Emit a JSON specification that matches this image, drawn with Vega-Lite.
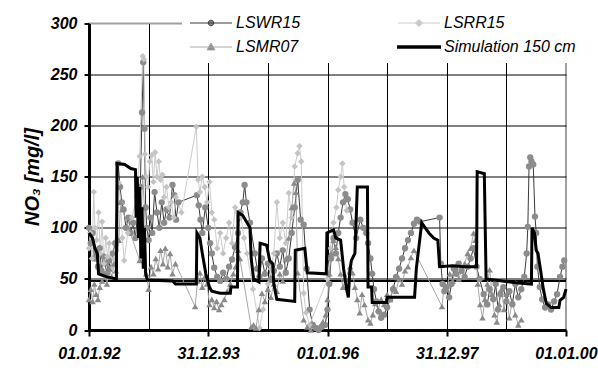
{
"$schema": "https://vega.github.io/schema/vega-lite/v6.json",
"width": 477,
"height": 306.5,
"autosize": {"type": "none"},
"padding": {"left": 89, "top": 23.5, "right": 32, "bottom": 48.5},
"background": "white",
"config": {"view": {"stroke": "#a0a0a0", "strokeWidth": 2}, "font": "Liberation Sans"},
"data": {"values": [
{"s":"LSWR15","t":1992.00,"v":100},{"s":"LSWR15","t":1992.03,"v":85},{"s":"LSWR15","t":1992.06,"v":95},{"s":"LSWR15","t":1992.09,"v":70},{"s":"LSWR15","t":1992.12,"v":78},{"s":"LSWR15","t":1992.15,"v":62},{"s":"LSWR15","t":1992.18,"v":80},{"s":"LSWR15","t":1992.21,"v":58},{"s":"LSWR15","t":1992.24,"v":72},{"s":"LSWR15","t":1992.27,"v":65},{"s":"LSWR15","t":1992.30,"v":55},{"s":"LSWR15","t":1992.33,"v":68},{"s":"LSWR15","t":1992.36,"v":60},{"s":"LSWR15","t":1992.40,"v":75},{"s":"LSWR15","t":1992.44,"v":85},{"s":"LSWR15","t":1992.49,"v":163},{"s":"LSWR15","t":1992.52,"v":140},{"s":"LSWR15","t":1992.55,"v":125},{"s":"LSWR15","t":1992.58,"v":118},{"s":"LSWR15","t":1992.62,"v":100},{"s":"LSWR15","t":1992.66,"v":110},{"s":"LSWR15","t":1992.70,"v":95},{"s":"LSWR15","t":1992.74,"v":105},{"s":"LSWR15","t":1992.78,"v":90},{"s":"LSWR15","t":1992.82,"v":120},{"s":"LSWR15","t":1992.86,"v":140},{"s":"LSWR15","t":1992.89,"v":213},{"s":"LSWR15","t":1992.91,"v":262},{"s":"LSWR15","t":1992.93,"v":197},{"s":"LSWR15","t":1992.95,"v":120},{"s":"LSWR15","t":1992.97,"v":100},{"s":"LSWR15","t":1993.00,"v":88},{"s":"LSWR15","t":1993.03,"v":110},{"s":"LSWR15","t":1993.06,"v":95},{"s":"LSWR15","t":1993.10,"v":135},{"s":"LSWR15","t":1993.14,"v":115},{"s":"LSWR15","t":1993.18,"v":100},{"s":"LSWR15","t":1993.22,"v":125},{"s":"LSWR15","t":1993.26,"v":105},{"s":"LSWR15","t":1993.30,"v":118},{"s":"LSWR15","t":1993.35,"v":110},{"s":"LSWR15","t":1993.40,"v":142},{"s":"LSWR15","t":1993.43,"v":132},{"s":"LSWR15","t":1993.46,"v":108},{"s":"LSWR15","t":1993.50,"v":125},{"s":"LSWR15","t":1993.81,"v":132},{"s":"LSWR15","t":1993.84,"v":122},{"s":"LSWR15","t":1993.87,"v":108},{"s":"LSWR15","t":1993.90,"v":95},{"s":"LSWR15","t":1993.95,"v":120},{"s":"LSWR15","t":1994.00,"v":100},{"s":"LSWR15","t":1994.03,"v":85},{"s":"LSWR15","t":1994.06,"v":75},{"s":"LSWR15","t":1994.10,"v":61},{"s":"LSWR15","t":1994.15,"v":52},{"s":"LSWR15","t":1994.20,"v":48},{"s":"LSWR15","t":1994.25,"v":56},{"s":"LSWR15","t":1994.30,"v":50},{"s":"LSWR15","t":1994.35,"v":62},{"s":"LSWR15","t":1994.40,"v":69},{"s":"LSWR15","t":1994.45,"v":81},{"s":"LSWR15","t":1994.50,"v":95},{"s":"LSWR15","t":1994.54,"v":115},{"s":"LSWR15","t":1994.58,"v":125},{"s":"LSWR15","t":1994.61,"v":142},{"s":"LSWR15","t":1994.64,"v":125},{"s":"LSWR15","t":1994.70,"v":105},{"s":"LSWR15","t":1994.78,"v":75},{"s":"LSWR15","t":1994.82,"v":60},{"s":"LSWR15","t":1994.86,"v":52},{"s":"LSWR15","t":1994.90,"v":70},{"s":"LSWR15","t":1994.95,"v":55},{"s":"LSWR15","t":1995.00,"v":65},{"s":"LSWR15","t":1995.05,"v":49},{"s":"LSWR15","t":1995.10,"v":58},{"s":"LSWR15","t":1995.15,"v":75},{"s":"LSWR15","t":1995.20,"v":62},{"s":"LSWR15","t":1995.25,"v":78},{"s":"LSWR15","t":1995.30,"v":56},{"s":"LSWR15","t":1995.35,"v":70},{"s":"LSWR15","t":1995.40,"v":95},{"s":"LSWR15","t":1995.45,"v":120},{"s":"LSWR15","t":1995.50,"v":147},{"s":"LSWR15","t":1995.55,"v":108},{"s":"LSWR15","t":1995.60,"v":103},{"s":"LSWR15","t":1995.65,"v":60},{"s":"LSWR15","t":1995.70,"v":20},{"s":"LSWR15","t":1995.75,"v":5},{"s":"LSWR15","t":1995.80,"v":2},{"s":"LSWR15","t":1995.85,"v":0},{"s":"LSWR15","t":1995.90,"v":3},{"s":"LSWR15","t":1995.96,"v":5},{"s":"LSWR15","t":1996.00,"v":20},{"s":"LSWR15","t":1996.03,"v":45},{"s":"LSWR15","t":1996.06,"v":70},{"s":"LSWR15","t":1996.10,"v":90},{"s":"LSWR15","t":1996.14,"v":75},{"s":"LSWR15","t":1996.18,"v":95},{"s":"LSWR15","t":1996.22,"v":110},{"s":"LSWR15","t":1996.26,"v":125},{"s":"LSWR15","t":1996.30,"v":133},{"s":"LSWR15","t":1996.34,"v":128},{"s":"LSWR15","t":1996.38,"v":118},{"s":"LSWR15","t":1996.42,"v":105},{"s":"LSWR15","t":1996.48,"v":90},{"s":"LSWR15","t":1996.55,"v":108},{"s":"LSWR15","t":1996.60,"v":100},{"s":"LSWR15","t":1996.65,"v":95},{"s":"LSWR15","t":1996.68,"v":85},{"s":"LSWR15","t":1996.72,"v":70},{"s":"LSWR15","t":1996.75,"v":55},{"s":"LSWR15","t":1996.78,"v":40},{"s":"LSWR15","t":1996.82,"v":28},{"s":"LSWR15","t":1996.86,"v":18},{"s":"LSWR15","t":1996.90,"v":12},{"s":"LSWR15","t":1996.95,"v":15},{"s":"LSWR15","t":1997.00,"v":22},{"s":"LSWR15","t":1997.05,"v":30},{"s":"LSWR15","t":1997.10,"v":40},{"s":"LSWR15","t":1997.15,"v":52},{"s":"LSWR15","t":1997.20,"v":60},{"s":"LSWR15","t":1997.25,"v":70},{"s":"LSWR15","t":1997.30,"v":80},{"s":"LSWR15","t":1997.35,"v":88},{"s":"LSWR15","t":1997.40,"v":95},{"s":"LSWR15","t":1997.45,"v":104},{"s":"LSWR15","t":1997.50,"v":108},{"s":"LSWR15","t":1997.55,"v":106},{"s":"LSWR15","t":1997.88,"v":110},{"s":"LSWR15","t":1997.90,"v":65},{"s":"LSWR15","t":1997.93,"v":45},{"s":"LSWR15","t":1997.96,"v":38},{"s":"LSWR15","t":1998.00,"v":42},{"s":"LSWR15","t":1998.04,"v":32},{"s":"LSWR15","t":1998.08,"v":45},{"s":"LSWR15","t":1998.12,"v":60},{"s":"LSWR15","t":1998.16,"v":55},{"s":"LSWR15","t":1998.20,"v":65},{"s":"LSWR15","t":1998.25,"v":58},{"s":"LSWR15","t":1998.30,"v":52},{"s":"LSWR15","t":1998.35,"v":62},{"s":"LSWR15","t":1998.40,"v":70},{"s":"LSWR15","t":1998.45,"v":80},{"s":"LSWR15","t":1998.50,"v":62},{"s":"LSWR15","t":1998.55,"v":50},{"s":"LSWR15","t":1998.62,"v":35},{"s":"LSWR15","t":1998.68,"v":25},{"s":"LSWR15","t":1998.72,"v":40},{"s":"LSWR15","t":1998.78,"v":30},{"s":"LSWR15","t":1998.82,"v":45},{"s":"LSWR15","t":1998.86,"v":20},{"s":"LSWR15","t":1998.90,"v":35},{"s":"LSWR15","t":1998.95,"v":42},{"s":"LSWR15","t":1999.00,"v":28},{"s":"LSWR15","t":1999.05,"v":38},{"s":"LSWR15","t":1999.10,"v":25},{"s":"LSWR15","t":1999.15,"v":45},{"s":"LSWR15","t":1999.20,"v":32},{"s":"LSWR15","t":1999.25,"v":40},{"s":"LSWR15","t":1999.30,"v":52},{"s":"LSWR15","t":1999.34,"v":75},{"s":"LSWR15","t":1999.36,"v":101},{"s":"LSWR15","t":1999.38,"v":160},{"s":"LSWR15","t":1999.40,"v":169},{"s":"LSWR15","t":1999.42,"v":165},{"s":"LSWR15","t":1999.45,"v":162},{"s":"LSWR15","t":1999.48,"v":111},{"s":"LSWR15","t":1999.50,"v":95},{"s":"LSWR15","t":1999.52,"v":62},{"s":"LSWR15","t":1999.56,"v":42},{"s":"LSWR15","t":1999.60,"v":30},{"s":"LSWR15","t":1999.65,"v":22},{"s":"LSWR15","t":1999.70,"v":25},{"s":"LSWR15","t":1999.75,"v":20},{"s":"LSWR15","t":1999.80,"v":28},{"s":"LSWR15","t":1999.85,"v":35},{"s":"LSWR15","t":1999.90,"v":52},{"s":"LSWR15","t":1999.94,"v":62},{"s":"LSWR15","t":1999.97,"v":68},
{"s":"LSRR15","t":1992.00,"v":80},{"s":"LSRR15","t":1992.02,"v":95},{"s":"LSRR15","t":1992.05,"v":70},{"s":"LSRR15","t":1992.08,"v":135},{"s":"LSRR15","t":1992.10,"v":100},{"s":"LSRR15","t":1992.13,"v":88},{"s":"LSRR15","t":1992.16,"v":115},{"s":"LSRR15","t":1992.19,"v":75},{"s":"LSRR15","t":1992.22,"v":106},{"s":"LSRR15","t":1992.25,"v":65},{"s":"LSRR15","t":1992.28,"v":90},{"s":"LSRR15","t":1992.31,"v":72},{"s":"LSRR15","t":1992.34,"v":85},{"s":"LSRR15","t":1992.38,"v":60},{"s":"LSRR15","t":1992.42,"v":70},{"s":"LSRR15","t":1992.46,"v":78},{"s":"LSRR15","t":1992.50,"v":144},{"s":"LSRR15","t":1992.53,"v":124},{"s":"LSRR15","t":1992.56,"v":90},{"s":"LSRR15","t":1992.59,"v":68},{"s":"LSRR15","t":1992.65,"v":95},{"s":"LSRR15","t":1992.72,"v":110},{"s":"LSRR15","t":1992.80,"v":130},{"s":"LSRR15","t":1992.85,"v":170},{"s":"LSRR15","t":1992.90,"v":268},{"s":"LSRR15","t":1992.92,"v":265},{"s":"LSRR15","t":1992.94,"v":172},{"s":"LSRR15","t":1992.96,"v":150},{"s":"LSRR15","t":1992.99,"v":140},{"s":"LSRR15","t":1993.02,"v":165},{"s":"LSRR15","t":1993.05,"v":171},{"s":"LSRR15","t":1993.08,"v":145},{"s":"LSRR15","t":1993.11,"v":174},{"s":"LSRR15","t":1993.14,"v":150},{"s":"LSRR15","t":1993.17,"v":165},{"s":"LSRR15","t":1993.20,"v":147},{"s":"LSRR15","t":1993.23,"v":152},{"s":"LSRR15","t":1993.26,"v":130},{"s":"LSRR15","t":1993.30,"v":140},{"s":"LSRR15","t":1993.34,"v":120},{"s":"LSRR15","t":1993.38,"v":125},{"s":"LSRR15","t":1993.42,"v":110},{"s":"LSRR15","t":1993.46,"v":130},{"s":"LSRR15","t":1993.55,"v":115},{"s":"LSRR15","t":1993.80,"v":199},{"s":"LSRR15","t":1993.83,"v":147},{"s":"LSRR15","t":1993.86,"v":135},{"s":"LSRR15","t":1993.90,"v":150},{"s":"LSRR15","t":1993.94,"v":140},{"s":"LSRR15","t":1993.98,"v":125},{"s":"LSRR15","t":1994.02,"v":145},{"s":"LSRR15","t":1994.06,"v":115},{"s":"LSRR15","t":1994.10,"v":108},{"s":"LSRR15","t":1994.15,"v":80},{"s":"LSRR15","t":1994.20,"v":95},{"s":"LSRR15","t":1994.25,"v":75},{"s":"LSRR15","t":1994.30,"v":90},{"s":"LSRR15","t":1994.35,"v":105},{"s":"LSRR15","t":1994.40,"v":85},{"s":"LSRR15","t":1994.45,"v":120},{"s":"LSRR15","t":1994.50,"v":100},{"s":"LSRR15","t":1994.55,"v":110},{"s":"LSRR15","t":1994.60,"v":90},{"s":"LSRR15","t":1994.65,"v":75},{"s":"LSRR15","t":1994.75,"v":40},{"s":"LSRR15","t":1994.86,"v":2},{"s":"LSRR15","t":1994.92,"v":20},{"s":"LSRR15","t":1995.00,"v":45},{"s":"LSRR15","t":1995.05,"v":60},{"s":"LSRR15","t":1995.10,"v":75},{"s":"LSRR15","t":1995.15,"v":125},{"s":"LSRR15","t":1995.20,"v":90},{"s":"LSRR15","t":1995.25,"v":105},{"s":"LSRR15","t":1995.30,"v":85},{"s":"LSRR15","t":1995.35,"v":134},{"s":"LSRR15","t":1995.40,"v":110},{"s":"LSRR15","t":1995.45,"v":160},{"s":"LSRR15","t":1995.50,"v":173},{"s":"LSRR15","t":1995.53,"v":180},{"s":"LSRR15","t":1995.56,"v":165},{"s":"LSRR15","t":1995.60,"v":36},{"s":"LSRR15","t":1995.64,"v":17},{"s":"LSRR15","t":1995.70,"v":5},{"s":"LSRR15","t":1996.00,"v":50},{"s":"LSRR15","t":1996.05,"v":80},{"s":"LSRR15","t":1996.10,"v":105},{"s":"LSRR15","t":1996.15,"v":120},{"s":"LSRR15","t":1996.18,"v":137},{"s":"LSRR15","t":1996.22,"v":150},{"s":"LSRR15","t":1996.25,"v":163},{"s":"LSRR15","t":1996.28,"v":140},{"s":"LSRR15","t":1996.32,"v":117},
{"s":"LSMR07","t":1992.00,"v":30},{"s":"LSMR07","t":1992.03,"v":40},{"s":"LSMR07","t":1992.06,"v":28},{"s":"LSMR07","t":1992.09,"v":45},{"s":"LSMR07","t":1992.12,"v":35},{"s":"LSMR07","t":1992.15,"v":30},{"s":"LSMR07","t":1992.18,"v":42},{"s":"LSMR07","t":1992.22,"v":48},{"s":"LSMR07","t":1992.26,"v":55},{"s":"LSMR07","t":1992.30,"v":45},{"s":"LSMR07","t":1992.34,"v":60},{"s":"LSMR07","t":1992.38,"v":52},{"s":"LSMR07","t":1992.42,"v":65},{"s":"LSMR07","t":1992.45,"v":58},{"s":"LSMR07","t":1992.50,"v":88},{"s":"LSMR07","t":1992.53,"v":125},{"s":"LSMR07","t":1992.56,"v":118},{"s":"LSMR07","t":1992.85,"v":68},{"s":"LSMR07","t":1992.90,"v":150},{"s":"LSMR07","t":1992.93,"v":120},{"s":"LSMR07","t":1992.96,"v":55},{"s":"LSMR07","t":1993.00,"v":40},{"s":"LSMR07","t":1993.04,"v":62},{"s":"LSMR07","t":1993.08,"v":55},{"s":"LSMR07","t":1993.12,"v":70},{"s":"LSMR07","t":1993.16,"v":60},{"s":"LSMR07","t":1993.20,"v":78},{"s":"LSMR07","t":1993.24,"v":65},{"s":"LSMR07","t":1993.28,"v":80},{"s":"LSMR07","t":1993.32,"v":62},{"s":"LSMR07","t":1993.36,"v":75},{"s":"LSMR07","t":1993.40,"v":55},{"s":"LSMR07","t":1993.45,"v":65},{"s":"LSMR07","t":1993.78,"v":23},{"s":"LSMR07","t":1993.82,"v":48},{"s":"LSMR07","t":1993.86,"v":56},{"s":"LSMR07","t":1993.90,"v":42},{"s":"LSMR07","t":1993.94,"v":52},{"s":"LSMR07","t":1993.98,"v":45},{"s":"LSMR07","t":1994.02,"v":25},{"s":"LSMR07","t":1994.06,"v":30},{"s":"LSMR07","t":1994.10,"v":22},{"s":"LSMR07","t":1994.14,"v":28},{"s":"LSMR07","t":1994.18,"v":20},{"s":"LSMR07","t":1994.22,"v":25},{"s":"LSMR07","t":1994.27,"v":30},{"s":"LSMR07","t":1994.32,"v":38},{"s":"LSMR07","t":1994.37,"v":45},{"s":"LSMR07","t":1994.42,"v":55},{"s":"LSMR07","t":1994.46,"v":62},{"s":"LSMR07","t":1994.50,"v":78},{"s":"LSMR07","t":1994.53,"v":70},{"s":"LSMR07","t":1994.72,"v":3},{"s":"LSMR07","t":1994.76,"v":5},{"s":"LSMR07","t":1994.80,"v":2},{"s":"LSMR07","t":1994.85,"v":20},{"s":"LSMR07","t":1994.90,"v":36},{"s":"LSMR07","t":1994.95,"v":28},{"s":"LSMR07","t":1995.00,"v":40},{"s":"LSMR07","t":1995.05,"v":32},{"s":"LSMR07","t":1995.10,"v":45},{"s":"LSMR07","t":1995.15,"v":38},{"s":"LSMR07","t":1995.20,"v":55},{"s":"LSMR07","t":1995.25,"v":48},{"s":"LSMR07","t":1995.30,"v":69},{"s":"LSMR07","t":1995.35,"v":90},{"s":"LSMR07","t":1995.40,"v":120},{"s":"LSMR07","t":1995.44,"v":144},{"s":"LSMR07","t":1995.47,"v":135},{"s":"LSMR07","t":1995.50,"v":56},{"s":"LSMR07","t":1995.60,"v":10},{"s":"LSMR07","t":1995.66,"v":3},{"s":"LSMR07","t":1995.72,"v":0},{"s":"LSMR07","t":1995.78,"v":5},{"s":"LSMR07","t":1995.85,"v":2},{"s":"LSMR07","t":1995.92,"v":8},{"s":"LSMR07","t":1995.97,"v":15},{"s":"LSMR07","t":1996.00,"v":30},{"s":"LSMR07","t":1996.03,"v":55},{"s":"LSMR07","t":1996.06,"v":75},{"s":"LSMR07","t":1996.10,"v":88},{"s":"LSMR07","t":1996.14,"v":81},{"s":"LSMR07","t":1996.18,"v":70},{"s":"LSMR07","t":1996.22,"v":55},{"s":"LSMR07","t":1996.26,"v":42},{"s":"LSMR07","t":1996.30,"v":50},{"s":"LSMR07","t":1996.38,"v":62},{"s":"LSMR07","t":1996.42,"v":56},{"s":"LSMR07","t":1996.46,"v":42},{"s":"LSMR07","t":1996.50,"v":30},{"s":"LSMR07","t":1996.54,"v":17},{"s":"LSMR07","t":1996.58,"v":35},{"s":"LSMR07","t":1996.62,"v":25},{"s":"LSMR07","t":1996.68,"v":10},{"s":"LSMR07","t":1996.72,"v":7},{"s":"LSMR07","t":1996.76,"v":15},{"s":"LSMR07","t":1996.80,"v":26},{"s":"LSMR07","t":1996.85,"v":20},{"s":"LSMR07","t":1996.90,"v":30},{"s":"LSMR07","t":1996.95,"v":25},{"s":"LSMR07","t":1997.00,"v":35},{"s":"LSMR07","t":1997.05,"v":30},{"s":"LSMR07","t":1997.10,"v":42},{"s":"LSMR07","t":1997.15,"v":38},{"s":"LSMR07","t":1997.20,"v":50},{"s":"LSMR07","t":1997.25,"v":45},{"s":"LSMR07","t":1997.30,"v":58},{"s":"LSMR07","t":1997.35,"v":62},{"s":"LSMR07","t":1997.40,"v":71},{"s":"LSMR07","t":1997.45,"v":78},{"s":"LSMR07","t":1997.92,"v":23},{"s":"LSMR07","t":1997.96,"v":45},{"s":"LSMR07","t":1998.00,"v":40},{"s":"LSMR07","t":1998.05,"v":55},{"s":"LSMR07","t":1998.10,"v":48},{"s":"LSMR07","t":1998.15,"v":62},{"s":"LSMR07","t":1998.20,"v":50},{"s":"LSMR07","t":1998.25,"v":58},{"s":"LSMR07","t":1998.30,"v":65},{"s":"LSMR07","t":1998.35,"v":75},{"s":"LSMR07","t":1998.40,"v":80},{"s":"LSMR07","t":1998.45,"v":95},{"s":"LSMR07","t":1998.48,"v":88},{"s":"LSMR07","t":1998.52,"v":45},{"s":"LSMR07","t":1998.56,"v":25},{"s":"LSMR07","t":1998.60,"v":12},{"s":"LSMR07","t":1998.64,"v":30},{"s":"LSMR07","t":1998.68,"v":45},{"s":"LSMR07","t":1998.72,"v":59},{"s":"LSMR07","t":1998.76,"v":35},{"s":"LSMR07","t":1998.80,"v":15},{"s":"LSMR07","t":1998.84,"v":8},{"s":"LSMR07","t":1998.88,"v":25},{"s":"LSMR07","t":1998.92,"v":40},{"s":"LSMR07","t":1998.96,"v":20},{"s":"LSMR07","t":1999.00,"v":35},{"s":"LSMR07","t":1999.05,"v":12},{"s":"LSMR07","t":1999.10,"v":28},{"s":"LSMR07","t":1999.15,"v":15},{"s":"LSMR07","t":1999.20,"v":5},{"s":"LSMR07","t":1999.25,"v":10},
{"s":"Simulation 150 cm","t":1992.00,"v":95},{"s":"Simulation 150 cm","t":1992.06,"v":90},{"s":"Simulation 150 cm","t":1992.10,"v":80},{"s":"Simulation 150 cm","t":1992.14,"v":75},{"s":"Simulation 150 cm","t":1992.16,"v":55},{"s":"Simulation 150 cm","t":1992.30,"v":52},{"s":"Simulation 150 cm","t":1992.46,"v":50},{"s":"Simulation 150 cm","t":1992.47,"v":163},{"s":"Simulation 150 cm","t":1992.60,"v":162},{"s":"Simulation 150 cm","t":1992.70,"v":158},{"s":"Simulation 150 cm","t":1992.78,"v":157},{"s":"Simulation 150 cm","t":1992.79,"v":110},{"s":"Simulation 150 cm","t":1992.81,"v":150},{"s":"Simulation 150 cm","t":1992.83,"v":90},{"s":"Simulation 150 cm","t":1992.85,"v":140},{"s":"Simulation 150 cm","t":1992.87,"v":70},{"s":"Simulation 150 cm","t":1992.89,"v":120},{"s":"Simulation 150 cm","t":1992.91,"v":60},{"s":"Simulation 150 cm","t":1992.93,"v":100},{"s":"Simulation 150 cm","t":1992.95,"v":55},{"s":"Simulation 150 cm","t":1992.98,"v":49},{"s":"Simulation 150 cm","t":1993.40,"v":48},{"s":"Simulation 150 cm","t":1993.45,"v":45},{"s":"Simulation 150 cm","t":1993.80,"v":45},{"s":"Simulation 150 cm","t":1993.81,"v":95},{"s":"Simulation 150 cm","t":1993.86,"v":90},{"s":"Simulation 150 cm","t":1993.90,"v":75},{"s":"Simulation 150 cm","t":1993.96,"v":55},{"s":"Simulation 150 cm","t":1994.02,"v":42},{"s":"Simulation 150 cm","t":1994.06,"v":38},{"s":"Simulation 150 cm","t":1994.20,"v":36},{"s":"Simulation 150 cm","t":1994.37,"v":36},{"s":"Simulation 150 cm","t":1994.38,"v":42},{"s":"Simulation 150 cm","t":1994.49,"v":42},{"s":"Simulation 150 cm","t":1994.50,"v":115},{"s":"Simulation 150 cm","t":1994.58,"v":112},{"s":"Simulation 150 cm","t":1994.70,"v":100},{"s":"Simulation 150 cm","t":1994.72,"v":70},{"s":"Simulation 150 cm","t":1994.76,"v":50},{"s":"Simulation 150 cm","t":1994.85,"v":47},{"s":"Simulation 150 cm","t":1994.87,"v":85},{"s":"Simulation 150 cm","t":1994.98,"v":83},{"s":"Simulation 150 cm","t":1995.03,"v":68},{"s":"Simulation 150 cm","t":1995.08,"v":65},{"s":"Simulation 150 cm","t":1995.10,"v":45},{"s":"Simulation 150 cm","t":1995.15,"v":30},{"s":"Simulation 150 cm","t":1995.45,"v":28},{"s":"Simulation 150 cm","t":1995.46,"v":78},{"s":"Simulation 150 cm","t":1995.62,"v":80},{"s":"Simulation 150 cm","t":1995.66,"v":56},{"s":"Simulation 150 cm","t":1995.98,"v":55},{"s":"Simulation 150 cm","t":1995.99,"v":95},{"s":"Simulation 150 cm","t":1996.10,"v":98},{"s":"Simulation 150 cm","t":1996.14,"v":90},{"s":"Simulation 150 cm","t":1996.22,"v":88},{"s":"Simulation 150 cm","t":1996.27,"v":60},{"s":"Simulation 150 cm","t":1996.32,"v":40},{"s":"Simulation 150 cm","t":1996.35,"v":32},{"s":"Simulation 150 cm","t":1996.37,"v":55},{"s":"Simulation 150 cm","t":1996.40,"v":68},{"s":"Simulation 150 cm","t":1996.46,"v":75},{"s":"Simulation 150 cm","t":1996.50,"v":140},{"s":"Simulation 150 cm","t":1996.67,"v":140},{"s":"Simulation 150 cm","t":1996.68,"v":42},{"s":"Simulation 150 cm","t":1996.74,"v":42},{"s":"Simulation 150 cm","t":1996.75,"v":27},{"s":"Simulation 150 cm","t":1996.99,"v":27},{"s":"Simulation 150 cm","t":1997.00,"v":32},{"s":"Simulation 150 cm","t":1997.46,"v":32},{"s":"Simulation 150 cm","t":1997.49,"v":60},{"s":"Simulation 150 cm","t":1997.58,"v":105},{"s":"Simulation 150 cm","t":1997.64,"v":100},{"s":"Simulation 150 cm","t":1997.70,"v":95},{"s":"Simulation 150 cm","t":1997.78,"v":90},{"s":"Simulation 150 cm","t":1997.85,"v":88},{"s":"Simulation 150 cm","t":1997.88,"v":62},{"s":"Simulation 150 cm","t":1998.10,"v":63},{"s":"Simulation 150 cm","t":1998.30,"v":62},{"s":"Simulation 150 cm","t":1998.50,"v":62},{"s":"Simulation 150 cm","t":1998.51,"v":155},{"s":"Simulation 150 cm","t":1998.63,"v":153},{"s":"Simulation 150 cm","t":1998.66,"v":50},{"s":"Simulation 150 cm","t":1998.80,"v":49},{"s":"Simulation 150 cm","t":1999.20,"v":46},{"s":"Simulation 150 cm","t":1999.42,"v":45},{"s":"Simulation 150 cm","t":1999.43,"v":100},{"s":"Simulation 150 cm","t":1999.47,"v":95},{"s":"Simulation 150 cm","t":1999.50,"v":78},{"s":"Simulation 150 cm","t":1999.53,"v":75},{"s":"Simulation 150 cm","t":1999.57,"v":60},{"s":"Simulation 150 cm","t":1999.62,"v":40},{"s":"Simulation 150 cm","t":1999.67,"v":26},{"s":"Simulation 150 cm","t":1999.75,"v":22},{"s":"Simulation 150 cm","t":1999.88,"v":22},{"s":"Simulation 150 cm","t":1999.90,"v":29},{"s":"Simulation 150 cm","t":1999.96,"v":32},{"s":"Simulation 150 cm","t":2000.00,"v":40}
]},
"encoding": {
  "x": {"field": "t", "type": "quantitative",
    "scale": {"domain": [1992, 2000], "nice": false, "zero": false},
    "axis": {"title": null, "values": [1992,1993,1994,1995,1996,1997,1998,1999,2000],
      "labelExpr": "datum.value==1992?'01.01.92':datum.value==1994?'31.12.93':datum.value==1996?'01.01.96':datum.value==1998?'31.12.97':datum.value==2000?'01.01.00':''",
      "labelOverlap": false, "labelFlush": false, "labelBound": false,
      "labelFont": "Liberation Sans", "labelFontSize": 16, "labelFontStyle": "italic", "labelFontWeight": "bold", "labelColor": "black", "labelPadding": 9,
      "tickSize": 6, "tickWidth": 2, "tickColor": "black",
      "tickOpacity": {"condition": {"test": "datum.value % 2 == 1", "value": 0}, "value": 1},
      "domainColor": "black", "domainWidth": 3,
      "grid": true, "gridColor": "black", "gridWidth": 1,
      "gridOpacity": {"condition": {"test": "datum.value == 1992 || datum.value == 2000", "value": 0}, "value": 1}}},
  "y": {"field": "v", "type": "quantitative",
    "scale": {"domain": [0, 300], "nice": false},
    "axis": {"values": [0,50,100,150,200,250,300], "title": "NO₃ [mg/l]",
      "titleFont": "Liberation Sans", "titleFontSize": 20, "titleFontStyle": "italic", "titleFontWeight": "bold", "titleColor": "black",
      "titleAngle": 270, "titleX": -57, "titleY": 153, "titleAlign": "center", "titleBaseline": "middle",
      "labelFont": "Liberation Sans", "labelFontSize": 16, "labelFontStyle": "italic", "labelFontWeight": "bold", "labelColor": "black", "labelPadding": 7,
      "labelFlush": false, "labelOverlap": false,
      "tickSize": 5, "tickWidth": 2, "tickColor": "black",
      "domainColor": "black", "domainWidth": 3,
      "grid": true, "gridColor": "black", "gridWidth": 1,
      "gridOpacity": {"condition": {"test": "datum.value == 300 || datum.value == 0", "value": 0}, "value": 1}}}
},
"layer": [
  {"mark": {"type": "rule", "color": "black", "strokeWidth": 1.2},
   "encoding": {"y": {"datum": 48}, "x": {"datum": 1992}, "x2": {"datum": 2000}}},
  {"transform": [{"filter": "datum.s != 'Simulation 150 cm'"}],
   "mark": {"type": "line", "strokeWidth": 1},
   "encoding": {
     "stroke": {"field": "s", "type": "nominal",
      "scale": {"domain": ["LSWR15", "LSRR15", "LSMR07", "Simulation 150 cm"], "range": ["#3a3a3a", "#cccccc", "#a8a8a8", "#000000"]},
      "legend": {"title": null, "orient": "none", "legendX": 93, "legendY": -16.5, "direction": "horizontal", "columns": 2,
        "columnPadding": 89, "rowPadding": 8, "padding": 8, "fillColor": "white",
        "labelFont": "Liberation Sans", "labelFontSize": 16, "labelFontStyle": "italic", "labelColor": "black", "labelOffset": 17,
        "symbolSize": 100, "symbolOffset": 13, "symbolStrokeWidth": 1,
        "encode": {"symbols": {"update": {
          "size": {"value": 100},
          "shape": {"signal": "datum.value=='LSWR15'?'M-4.2,0H4.2M-0.55,0A0.55,0.55,0,1,1,0.55,0A0.55,0.55,0,1,1,-0.55,0Z':datum.value=='LSRR15'?'M-4.2,0H4.2M0,-0.7L0.7,0L0,0.7L-0.7,0Z':datum.value=='LSMR07'?'M-4.2,0H4.2M0,-0.8L0.8,0.6L-0.8,0.6Z':'M-4.4,0H4.4'"},
          "fill": {"signal": "datum.value=='LSWR15'?'#8c8c8c':datum.value=='LSRR15'?'#c4c4c4':datum.value=='LSMR07'?'#8a8a8a':'transparent'"},
          "strokeWidth": {"signal": "datum.value=='Simulation 150 cm'?3.5:1"},
          "opacity": {"value": 1}
        }}}
      }
     }
   }
  },
  {"transform": [{"filter": "datum.s != 'Simulation 150 cm'"}],
   "mark": {"type": "point", "filled": true, "opacity": 1},
   "encoding": {
     "shape": {"field": "s", "type": "nominal", "scale": {"domain": ["LSWR15", "LSRR15", "LSMR07"], "range": ["circle", "diamond", "triangle-up"]}, "legend": null},
     "fill": {"field": "s", "type": "nominal", "scale": {"domain": ["LSWR15", "LSRR15", "LSMR07"], "range": ["#8c8c8c", "#c4c4c4", "#8a8a8a"]}, "legend": null},
     "size": {"field": "s", "type": "nominal", "scale": {"domain": ["LSWR15", "LSRR15", "LSMR07"], "range": [40, 42, 55]}, "legend": null}}},
  {"transform": [{"filter": "datum.s == 'Simulation 150 cm'"}],
   "mark": {"type": "line", "strokeWidth": 3, "strokeJoin": "miter"},
   "encoding": {"stroke": {"field": "s", "type": "nominal"}}}
]
}
